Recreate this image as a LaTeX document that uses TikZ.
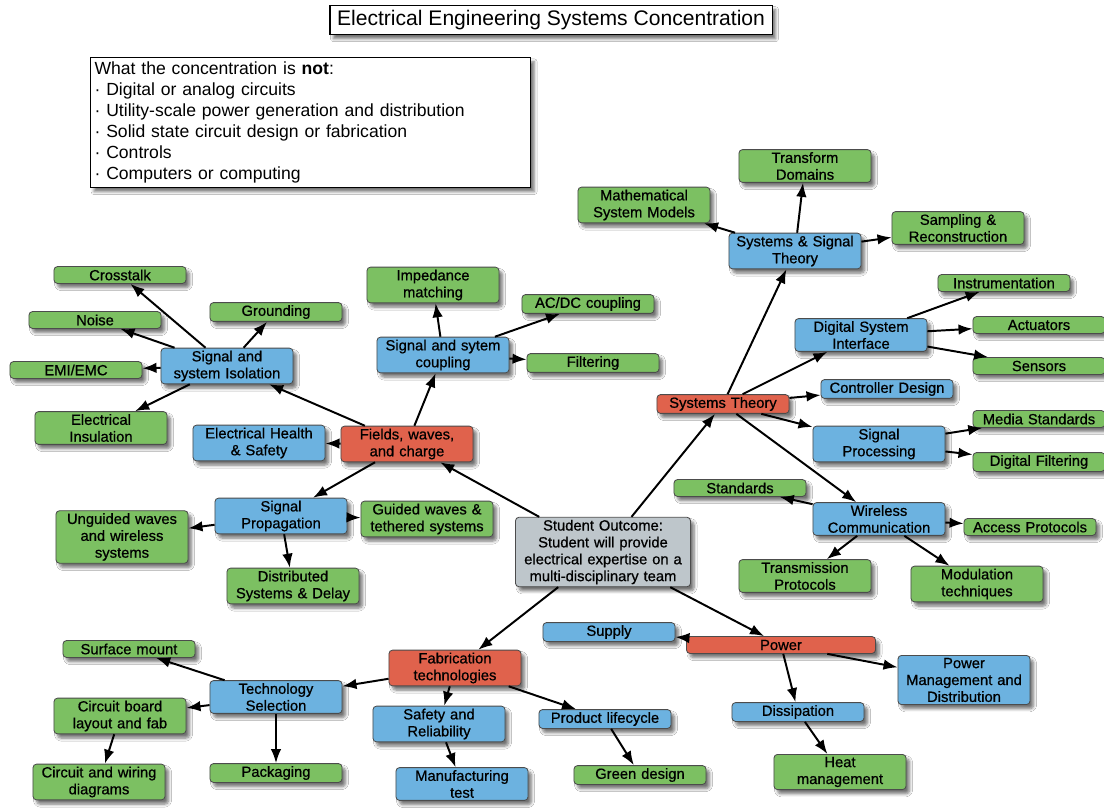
\documentclass[tikz,border=0pt]{standalone}
\usepackage{fontspec}
\setmainfont{Liberation Sans}
\newfontfamily\heavyfont{Liberation Sans}[BoldFont={Liberation Sans},BoldFeatures={FakeBold=0.7}]
\usetikzlibrary{arrows.meta,shadows.blur}
\definecolor{conceptgreen}{RGB}{124,192,98}
\definecolor{conceptblue}{RGB}{108,178,224}
\definecolor{conceptred}{RGB}{224,98,76}
\definecolor{conceptgray}{RGB}{190,198,203}

\begin{document}
\begin{tikzpicture}[x=0.025cm,y=-0.025cm,
  box/.style={draw=black!70,line width=0.6pt,rounded corners=2.5pt,align=center,
    text width=3.1cm,inner xsep=0.1cm,inner ysep=1.8pt,minimum height=12pt,
    font=\heavyfont\bfseries\fontsize{10.5}{12}\selectfont,
    blur shadow={shadow xshift=2.5pt,shadow yshift=-3pt,shadow opacity=55,shadow blur steps=6}},
  leaf/.style={box,fill=conceptgreen},
  sub/.style={box,fill=conceptblue},
  area/.style={box,fill=conceptred},
  link/.style={-{Latex[length=10pt,width=7.5pt]},line width=1.4pt}]
\useasboundingbox[fill=white] (0,0) rectangle (1104,810);

\node[draw,line width=0.8pt,fill=white,minimum width=11.05cm,minimum height=0.675cm,
  font=\fontsize{15}{17}\selectfont,
  blur shadow={shadow xshift=2.5pt,shadow yshift=-3pt,shadow opacity=55}] (title) at (551,20)
  {Electrical Engineering Systems Concentration};
\node[draw,line width=0.8pt,fill=white,anchor=north west,align=left,text width=10.8cm,
  inner xsep=0.1cm,minimum height=3.125cm,font=\fontsize{12.5}{14.8}\selectfont,
  blur shadow={shadow xshift=2.5pt,shadow yshift=-3pt,shadow opacity=55}] (notbox) at (90,57)
  {What the concentration is \textbf{not}:\\
   · Digital or analog circuits\\
   · Utility-scale power generation and distribution\\
   · Solid state circuit design or fabrication\\
   · Controls\\
   · Computers or computing};

\node[leaf] (crosstalk) at (120,275) {Crosstalk};
\node[leaf] (noise) at (95,320) {Noise};
\node[leaf] (grounding) at (276,312) {Grounding};
\node[leaf] (emi) at (76,370) {EMI/EMC};
\node[sub] (isolation) at (227,366) {Signal and\\system Isolation};
\node[leaf] (insulation) at (101,428) {Electrical\\Insulation};
\node[sub] (health) at (259,443) {Electrical Health\\\& Safety};
\node[area] (fields) at (407,444) {Fields, waves,\\and charge};
\node[leaf] (impedance) at (433,285) {Impedance\\matching};
\node[sub] (coupling) at (443,355) {Signal and sytem\\coupling};
\node[leaf] (acdc) at (588,304) {AC/DC coupling};
\node[leaf] (filtering) at (593,363) {Filtering};

\node[leaf] (transform) at (805,166) {Transform\\Domains};
\node[leaf] (mathmodels) at (644,205) {Mathematical\\System Models};
\node[sub] (signaltheory) at (795,251) {Systems \& Signal\\Theory};
\node[leaf] (sampling) at (958,228) {Sampling \&\\Reconstruction};
\node[leaf] (instrumentation) at (1004,283) {Instrumentation};
\node[sub] (digitalif) at (861,335) {Digital System\\Interface};
\node[leaf] (actuators) at (1039,325) {Actuators};
\node[leaf] (sensors) at (1039,366) {Sensors};
\node[sub] (controller) at (887,389) {Controller Design};
\node[area] (systems) at (723,404) {Systems Theory};
\node[leaf] (media) at (1039,419) {Media Standards};
\node[sub] (processing) at (879,444) {Signal\\Processing};
\node[leaf] (digfilter) at (1039,462) {Digital Filtering};

\node[sub] (propagation) at (281,516) {Signal\\Propagation};
\node[leaf] (guided) at (427,519) {Guided waves \&\\tethered systems};
\node[leaf] (unguided) at (122,537) {Unguided waves\\and wireless\\systems};
\node[leaf] (distributed) at (293,586) {Distributed\\Systems \& Delay};

\node[leaf] (standards) at (740,488) {Standards};
\node[sub] (wireless) at (879,519) {Wireless\\Communication};
\node[leaf] (access) at (1030,527) {Access Protocols};
\node[box,fill=conceptgray,text width=4.175cm] (outcome) at (603,552)
  {Student Outcome:\\Student will provide\\electrical expertise on a\\multi-disciplinary team};
\node[leaf] (transmission) at (805,576) {Transmission\\Protocols};
\node[leaf] (modulation) at (977,584) {Modulation\\techniques};

\node[leaf] (surface) at (129,649) {Surface mount};
\node[area] (fabrication) at (455,668) {Fabrication\\technologies};
\node[sub] (techselect) at (276,697) {Technology\\Selection};
\node[leaf] (boardlayout) at (120,716) {Circuit board\\layout and fab};
\node[sub] (safety) at (439,724) {Safety and\\Reliability};
\node[leaf] (wiring) at (99,782) {Circuit and wiring\\diagrams};
\node[leaf] (packaging) at (276,773) {Packaging};
\node[sub] (mfgtest) at (462,784) {Manufacturing\\test};
\node[sub] (lifecycle) at (605,719) {Product lifecycle};
\node[leaf] (green) at (640,775) {Green design};

\node[sub] (supply) at (609,632) {Supply};
\node[area,text width=4.525cm] (power) at (781,645) {Power};
\node[sub] (powermgmt) at (964,680) {Power\\Management and\\Distribution};
\node[sub] (dissipation) at (798,712) {Dissipation};
\node[leaf] (heat) at (840,772) {Heat\\management};

\foreach \child in {fields,systems,fabrication,power}
  \draw[link] (outcome) -- (\child);
\foreach \child in {isolation,coupling,health,propagation}
  \draw[link] (fields) -- (\child);
\foreach \child in {crosstalk,noise,grounding,emi,insulation}
  \draw[link] (isolation) -- (\child);
\foreach \child in {impedance,acdc,filtering}
  \draw[link] (coupling) -- (\child);
\foreach \child in {unguided,guided,distributed}
  \draw[link] (propagation) -- (\child);
\foreach \child in {signaltheory,digitalif,controller,processing,wireless}
  \draw[link] (systems) -- (\child);
\foreach \child in {transform,mathmodels,sampling}
  \draw[link] (signaltheory) -- (\child);
\foreach \child in {instrumentation,actuators,sensors}
  \draw[link] (digitalif) -- (\child);
\foreach \child in {media,digfilter}
  \draw[link] (processing) -- (\child);
\foreach \child in {standards,access,transmission,modulation}
  \draw[link] (wireless) -- (\child);
\foreach \child in {techselect,safety,lifecycle}
  \draw[link] (fabrication) -- (\child);
\foreach \child in {surface,boardlayout,packaging}
  \draw[link] (techselect) -- (\child);
\draw[link] (boardlayout) -- (wiring);
\draw[link] (safety) -- (mfgtest);
\draw[link] (lifecycle) -- (green);
\foreach \child in {supply,powermgmt,dissipation}
  \draw[link] (power) -- (\child);
\draw[link] (dissipation) -- (heat);

\end{tikzpicture}
\end{document}
